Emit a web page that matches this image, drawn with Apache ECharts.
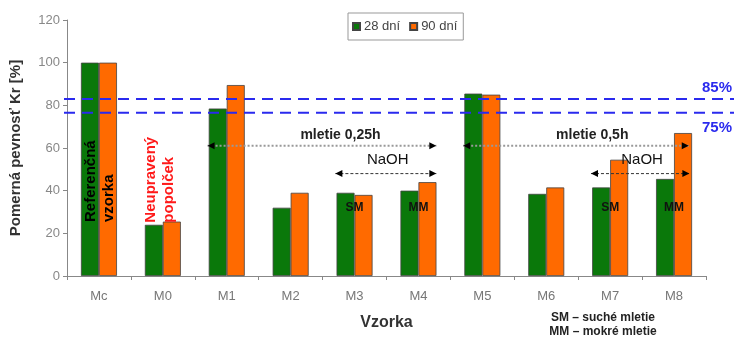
<!DOCTYPE html>
<html><head><meta charset="utf-8">
<script src="https://cdn.jsdelivr.net/npm/echarts@6/dist/echarts.min.js"></script>
<style>html,body{margin:0;padding:0;background:#fff}#c{width:734px;height:338px}</style>
</head><body><div id="c"></div>
<script>
var categories = ['Mc','M0','M1','M2','M3','M4','M5','M6','M7','M8'];
var days28 = [100, 24, 78.5, 32, 39, 40, 85.5, 38.5, 41.5, 45.5];
var days90 = [100, 25.5, 89.5, 39, 38, 44, 85, 41.5, 54.5, 67];
var seriesNames = ['28 dní', '90 dní'];
var yTicks = [0, 20, 40, 60, 80, 100, 120];
var thresholdValues = [83, 76.5];
var thresholdLabels = ['85%', '75%'];
// arrows: [fromCat, toCat, yValue, text, textCat, textY]
var millArrows = [[1.70, 5.28, 61, 'mletie 0,25h', 3.78, 66], [5.70, 9.23, 61, 'mletie 0,5h', 7.72, 66]];
var naohArrows = [[3.70, 5.28, 48, 'NaOH', 4.52, 54.5], [7.70, 9.24, 48, 'NaOH', 8.5, 54.5]];
var millLabels = [[4, 'SM'], [5, 'MM'], [8, 'SM'], [9, 'MM']];

var chart = echarts.init(document.getElementById('c'));
var FONT = 'Liberation Sans, Arial, sans-serif';
chart.setOption({
  animation: false,
  textStyle: {fontFamily: FONT},
  legend: {
    top: 13, left: 348, itemWidth: 7, itemHeight: 7, itemGap: 9,
    padding: [7, 6, 7, 4], borderColor: '#999', borderWidth: 1,
    textStyle: {fontSize: 13, color: '#444', fontFamily: FONT, padding: [0, 0, 0, -1]},
    icon: 'rect',
    data: seriesNames
  },
  grid: {left: 66, right: 28, top: 20, bottom: 62},
  xAxis: {
    type: 'category', data: categories,
    name: 'Vzorka', nameLocation: 'middle', nameGap: 39,
    nameTextStyle: {fontSize: 16, fontWeight: 'bold', color: '#333'},
    axisLine: {lineStyle: {color: '#888', width: 1}},
    axisTick: {show: true, length: 4, lineStyle: {color: '#888'}},
    axisLabel: {fontSize: 13, color: '#777', margin: 14}
  },
  yAxis: {
    type: 'value', min: 0, max: 120, interval: 20,
    name: 'Pomerná pevnosť Kr [%]', nameLocation: 'middle', nameGap: 44,
    nameTextStyle: {fontSize: 15, fontWeight: 'bold', color: '#333'},
    axisLine: {show: true, lineStyle: {color: '#888'}},
    axisTick: {show: true, length: 4, lineStyle: {color: '#888'}},
    axisLabel: {fontSize: 13, color: '#888', margin: 7},
    splitLine: {show: false}
  },
  series: [
    {name: seriesNames[0], type: 'bar', data: days28, barWidth: 18, barGap: '0%',
     itemStyle: {color: '#0a780a', borderColor: '#444', borderWidth: 0.8}},
    {name: seriesNames[1], type: 'bar', data: days90, barWidth: 18,
     itemStyle: {color: '#ff6a00', borderColor: '#444', borderWidth: 0.8}}
  ]
});

function px(cat, val) {
  var a = chart.convertToPixel({xAxisIndex: 0, yAxisIndex: 0}, [0, val]);
  var b = chart.convertToPixel({xAxisIndex: 0, yAxisIndex: 0}, [1, val]);
  return [a[0] + (b[0] - a[0]) * cat, a[1]];
}
var g = [];
thresholdValues.forEach(function (v, i) {
  var p = px(0, v);
  g.push({type: 'line', shape: {x1: 64, y1: p[1], x2: 734, y2: p[1]},
    style: {stroke: '#2a2aee', lineWidth: 2, lineDash: [11, 7]}, z: 10});
  g.push({type: 'text', x: 732, y: p[1] + (i === 0 ? -11 : 15),
    style: {text: thresholdLabels[i], fill: '#2a2aee', font: 'bold 15px ' + FONT, align: 'right', verticalAlign: 'middle'}, z: 10});
});
function arrowHead(x, y, dir) {
  return {type: 'polygon', shape: {points: [[x, y], [x - dir * 7, y - 3.5], [x - dir * 7, y + 3.5]]},
    style: {fill: '#000'}, z: 11};
}
millArrows.forEach(function (a) {
  var p1 = px(a[0], a[2]), p2 = px(a[1], a[2]);
  g.push({type: 'line', shape: {x1: p1[0], y1: p1[1], x2: p2[0], y2: p2[1]},
    style: {stroke: '#999', lineWidth: 2, lineDash: [2, 2]}, z: 10});
  g.push(arrowHead(p1[0], p1[1], -1));
  g.push(arrowHead(p2[0], p2[1], 1));
  var t = px(a[4], a[5]);
  g.push({type: 'text', x: t[0], y: t[1], style: {text: a[3], fill: '#222', font: 'bold 14px ' + FONT, align: 'center', verticalAlign: 'middle'}, z: 11});
});
naohArrows.forEach(function (a) {
  var p1 = px(a[0], a[2]), p2 = px(a[1], a[2]);
  g.push({type: 'line', shape: {x1: p1[0], y1: p1[1], x2: p2[0], y2: p2[1]},
    style: {stroke: '#333', lineWidth: 1, lineDash: [3, 2]}, z: 10});
  g.push(arrowHead(p1[0], p1[1], -1));
  g.push(arrowHead(p2[0], p2[1], 1));
  var t = px(a[4], a[5]);
  g.push({type: 'text', x: t[0], y: t[1], style: {text: a[3], fill: '#111', font: '15px ' + FONT, align: 'center', verticalAlign: 'middle'}, z: 11});
});
millLabels.forEach(function (m) {
  var t = px(m[0], 32);
  g.push({type: 'text', x: t[0], y: t[1], style: {text: m[1], fill: '#111', font: 'bold 12px ' + FONT, align: 'center', verticalAlign: 'middle'}, z: 11});
});
function vtext(cat, val, dx, txt, color) {
  var p = px(cat, val);
  return {type: 'text', x: p[0] + dx, y: p[1], rotation: Math.PI / 2,
    style: {text: txt, fill: color, font: 'bold 15px ' + FONT, align: 'left', verticalAlign: 'middle'}, z: 11};
}
g.push(vtext(0, 25.3, -8, 'Referenčná', '#000'));
g.push(vtext(0, 25.3, 10, 'vzorka', '#000'));
g.push(vtext(1, 25, -12, 'Neupravený', '#ff1a1a'));
g.push(vtext(1, 25, 6, 'popolček', '#ff1a1a'));
g.push({type: 'text', x: 603, y: 318, style: {text: 'SM – suché mletie', fill: '#222', font: 'bold 12px ' + FONT, align: 'center', verticalAlign: 'middle'}});
g.push({type: 'text', x: 603, y: 332, style: {text: 'MM – mokré mletie', fill: '#222', font: 'bold 12px ' + FONT, align: 'center', verticalAlign: 'middle'}});
chart.setOption({graphic: g});
</script></body></html>
